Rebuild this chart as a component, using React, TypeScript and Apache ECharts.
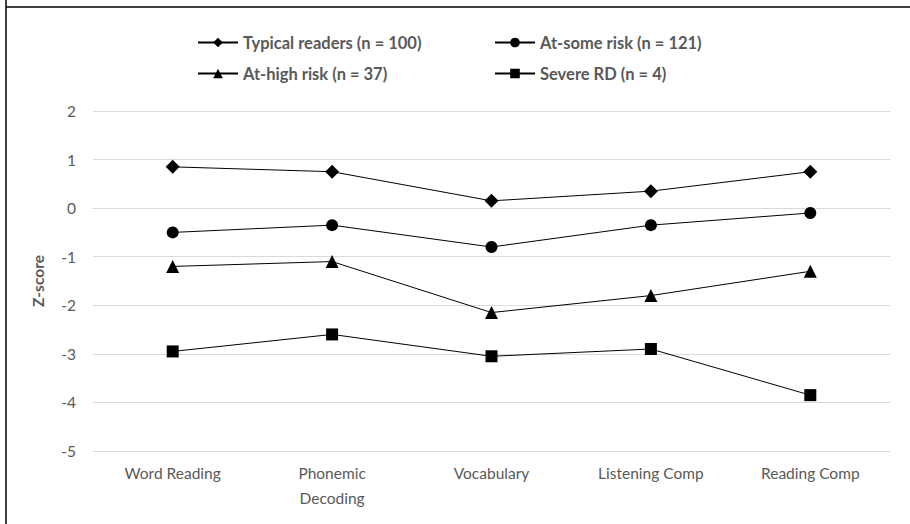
import React, { useEffect, useRef } from "react";
import * as echarts from "echarts";

const categories = ["Word Reading", "Phonemic\nDecoding", "Vocabulary", "Listening Comp", "Reading Comp"];
const typicalReaders = [0.85, 0.75, 0.15, 0.35, 0.75];
const atSomeRisk = [-0.5, -0.35, -0.8, -0.35, -0.1];
const atHighRisk = [-1.2, -1.1, -2.15, -1.8, -1.3];
const severeRD = [-2.95, -2.6, -3.05, -2.9, -3.85];
const seriesNames = [
  "Typical readers (n = 100)",
  "At-some risk (n = 121)",
  "At-high risk (n = 37)",
  "Severe RD (n = 4)",
];

const FONT = "Lato, 'Open Sans', sans-serif";
const GRAY = "#595959";

export default function App() {
  const ref = useRef<HTMLDivElement>(null);
  useEffect(() => {
    document.body.style.margin = "0";
    const chart = echarts.init(ref.current!, null, { renderer: "svg" });
    const mk = (name: string, data: number[], symbol: string, size: number | number[]) => ({
      name,
      type: "line",
      data,
      symbol,
      symbolSize: size,
      lineStyle: { color: "#000", width: 1 },
      itemStyle: { color: "#000" },
    });
    const legendBase = {
      itemWidth: 40,
      itemHeight: 12,
      itemGap: 0,
      padding: 0,
      textStyle: { color: GRAY, fontWeight: "bold", fontSize: 16.5, fontFamily: FONT },
    };
    chart.setOption({
      animation: false,
      grid: { left: 93, right: 20, top: 111, bottom: 73 },
      legend: [
        { ...legendBase, data: [seriesNames[0]], left: 197, top: 34 },
        { ...legendBase, data: [seriesNames[1]], left: 494, top: 34 },
        { ...legendBase, data: [seriesNames[2]], left: 197, top: 65 },
        { ...legendBase, data: [seriesNames[3]], left: 494, top: 65 },
      ],
      xAxis: {
        type: "category",
        data: categories,
        boundaryGap: true,
        axisLine: { show: true, lineStyle: { color: "#d9d9d9" } },
        axisTick: { show: false },
        axisLabel: { color: GRAY, fontSize: 15.5, fontFamily: FONT, margin: 9, lineHeight: 25, interval: 0 },
      },
      yAxis: {
        type: "value",
        min: -5,
        max: 2,
        interval: 1,
        name: "Z-score",
        nameLocation: "middle",
        nameGap: 47,
        nameRotate: 90,
        nameTextStyle: { color: GRAY, fontWeight: "bold", fontSize: 15.5, fontFamily: FONT },
        axisLine: { show: false },
        axisTick: { show: false },
        axisLabel: { color: GRAY, fontSize: 15.5, fontFamily: FONT, margin: 17 },
        splitLine: { lineStyle: { color: "#d9d9d9", width: 1 } },
      },
      graphic: [
        { type: "line", shape: { x1: 6, y1: 0, x2: 6, y2: 524 }, style: { stroke: "#000", lineWidth: 1.5 } },
        { type: "line", shape: { x1: 6, y1: 7, x2: 910, y2: 7 }, style: { stroke: "#000", lineWidth: 1.5 } },
      ],
      series: [
        mk(seriesNames[0], typicalReaders, "diamond", 14),
        mk(seriesNames[1], atSomeRisk, "circle", 12),
        mk(seriesNames[2], atHighRisk, "triangle", 13),
        mk(seriesNames[3], severeRD, "rect", 12),
      ],
    });
    return () => chart.dispose();
  }, []);
  return <div ref={ref} style={{ width: 910, height: 524 }} />;
}
